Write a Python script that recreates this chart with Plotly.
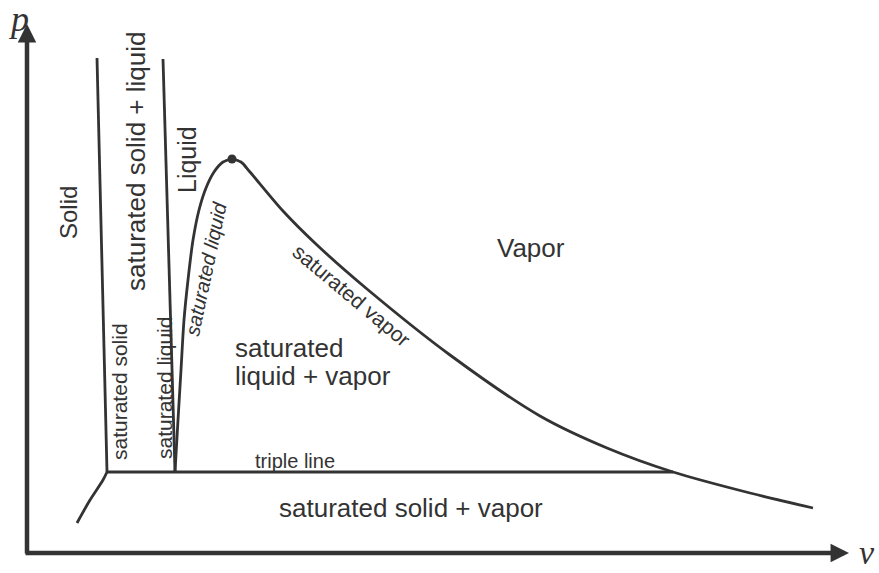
import plotly.graph_objects as go

# p-v phase diagram of a substance that contracts on freezing (water-like)
INK = "#333333"

# saturated solid boundary (solid / solid+liquid)
sat_solid_v = [80, 70]
sat_solid_p = [81, 495]

# saturated liquid boundary on the freezing side (solid+liquid / liquid)
melt_liq_v = [148, 136]
melt_liq_p = [81, 494]

# saturated liquid line up to the critical point
sat_liq_v = [148, 151, 154, 157, 161, 166, 172, 179, 187, 196, 205]
sat_liq_p = [81, 133, 183, 233, 273, 313, 343, 365, 381, 391, 394]

# saturated vapor line from the critical point down past the triple line
sat_vap_v = [205, 214, 223, 256, 290, 340, 423, 513, 580, 646, 723, 786]
sat_vap_p = [394, 391, 381, 342, 308, 264, 198, 137, 105, 81, 60, 45]

# sublimation line below the triple point
subl_v = [80, 76, 63, 50]
subl_p = [81, 73, 53, 30]

# triple line
triple_v = [80, 646]
triple_p = [81, 81]

# critical point
crit_v = [205]
crit_p = [394]

fig = go.Figure()
line_style = dict(color=INK, width=2.8)
for vv, pp in [(sat_solid_v, sat_solid_p), (melt_liq_v, melt_liq_p),
               (sat_liq_v, sat_liq_p), (sat_vap_v, sat_vap_p),
               (subl_v, subl_p), (triple_v, triple_p)]:
    fig.add_trace(go.Scatter(x=vv, y=pp, mode="lines",
                             line=dict(**line_style, shape="spline", smoothing=0.8),
                             hoverinfo="skip", showlegend=False))
fig.add_trace(go.Scatter(x=crit_v, y=crit_p, mode="markers",
                         marker=dict(color=INK, size=9), showlegend=False, hoverinfo="skip"))

# axes drawn as arrows
arrow = dict(xref="x", yref="y", axref="x", ayref="y", text="", showarrow=True,
             arrowhead=2, arrowwidth=4.5, arrowsize=0.82, arrowcolor=INK, standoff=0)
fig.add_annotation(x=0, y=529, ax=0, ay=-2, **arrow)
fig.add_annotation(x=822, y=0, ax=-3, ay=0, **arrow)

serif = dict(family="Liberation Serif", size=36, color=INK)
fig.add_annotation(x=-9, y=534, text="<i>p</i>", showarrow=False, font=serif)
fig.add_annotation(x=840, y=-20, yanchor="bottom", text="<i>v</i>", showarrow=False,
                   font=dict(family="Liberation Serif", size=34, color=INK))

sans = "Liberation Sans"
labels = [
    # text, v, p, size, angle, xanchor
    ("Solid", 41, 340, 24, -90, "center"),
    ("saturated solid + liquid", 109, 391, 26, -90, "center"),
    ("Liquid", 160, 393, 25, -90, "center"),
    ("saturated solid", 92, 161, 21, -90, "center"),
    ("saturated liquid", 137, 165, 21, -90, "center"),
    ("<i>saturated liquid</i>", 179, 284, 20, -78, "center"),
    ("saturated vapor", 325, 258, 21, 40, "center"),
    ("saturated", 206, 205, 26, 0, "left"),
    ("liquid + vapor", 206, 177, 26, 0, "left"),
    ("Vapor", 504, 305, 26, 0, "center"),
    ("triple line", 226, 92, 20, 0, "left"),
    ("saturated solid + vapor", 384, 45, 26, 0, "center"),
]
for txt, vx, py, sz, ang, xa in labels:
    fig.add_annotation(x=vx, y=py, text=txt, showarrow=False, textangle=ang, xanchor=xa,
                       font=dict(family=sans, size=sz, color=INK))

fig.update_layout(
    width=879, height=573,
    margin=dict(l=0, r=0, t=0, b=0),
    paper_bgcolor="white", plot_bgcolor="white",
    xaxis=dict(range=[-27, 852], visible=False, fixedrange=True),
    yaxis=dict(range=[-20, 553], visible=False, fixedrange=True),
)

fig.write_html("out.html")
